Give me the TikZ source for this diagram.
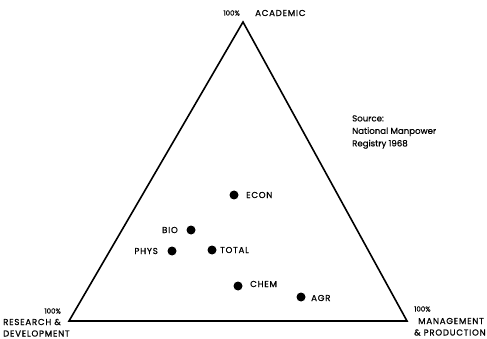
\documentclass[tikz,border=0pt]{standalone}
\usepackage{fontspec}
\setmainfont{Poppins}[FakeBold=0.6]
\newfontfamily\capsfont{Poppins}[LetterSpace=9, FakeBold=0.8]
\begin{document}
\begin{tikzpicture}[x=1pt,y=-1pt,
  lbl/.style={font=\capsfont\fontsize{8.6}{10}\selectfont, inner sep=0pt},
  pct/.style={font=\fontsize{7}{7}\selectfont, inner sep=0pt},
  dot/.style={circle, fill=black, minimum size=9pt, inner sep=0pt},
  edge/.style={line width=1.6pt, line join=miter}]
\useasboundingbox (0,0) rectangle (487,339);
% corners of the triangle
\coordinate (top) at (243,22);
\coordinate (rd) at (69,321);
\coordinate (mp) at (407,321);
\draw[edge] (top) -- (rd) -- (mp) -- cycle;
% vertex labels
\node[pct, anchor=east] (ptop) at (240,13) {100\%};
\node[lbl, anchor=west] (ltop) at (255,13) {ACADEMIC};
\node[pct, anchor=east] (prd) at (61,311) {100\%};
\node[lbl, anchor=west] (lrd1) at (3,322) {RESEARCH \&};
\node[lbl, anchor=west] (lrd2) at (3,333.5) {DEVELOPMENT};
\node[pct, anchor=west] (pmp) at (414,309) {100\%};
\node[lbl, anchor=west] (lmp1) at (418,321) {MANAGEMENT};
\node[lbl, anchor=west] (lmp2) at (414,332.5) {\& PRODUCTION};
% source note
\node[anchor=west, align=left, inner sep=0pt, font=\fontsize{8.6}{12.5}\selectfont] (src) at (352,132) {Source:\\National Manpower\\Registry 1968};
% fields of study
\node[dot] (econ) at (234,195) {};
\node[lbl, anchor=west] at (246,195) {ECON};
\node[dot] (bio) at (191,230) {};
\node[lbl, anchor=east] at (178,230) {BIO};
\node[dot] (phys) at (172,251) {};
\node[lbl, anchor=east] at (158,251) {PHYS};
\node[dot] (total) at (212,250) {};
\node[lbl, anchor=west] at (220,250) {TOTAL};
\node[dot] (chem) at (238,286) {};
\node[lbl, anchor=west] at (250,284) {CHEM};
\node[dot] (agr) at (301,297) {};
\node[lbl, anchor=west] at (311,298) {AGR};
\end{tikzpicture}
\end{document}
